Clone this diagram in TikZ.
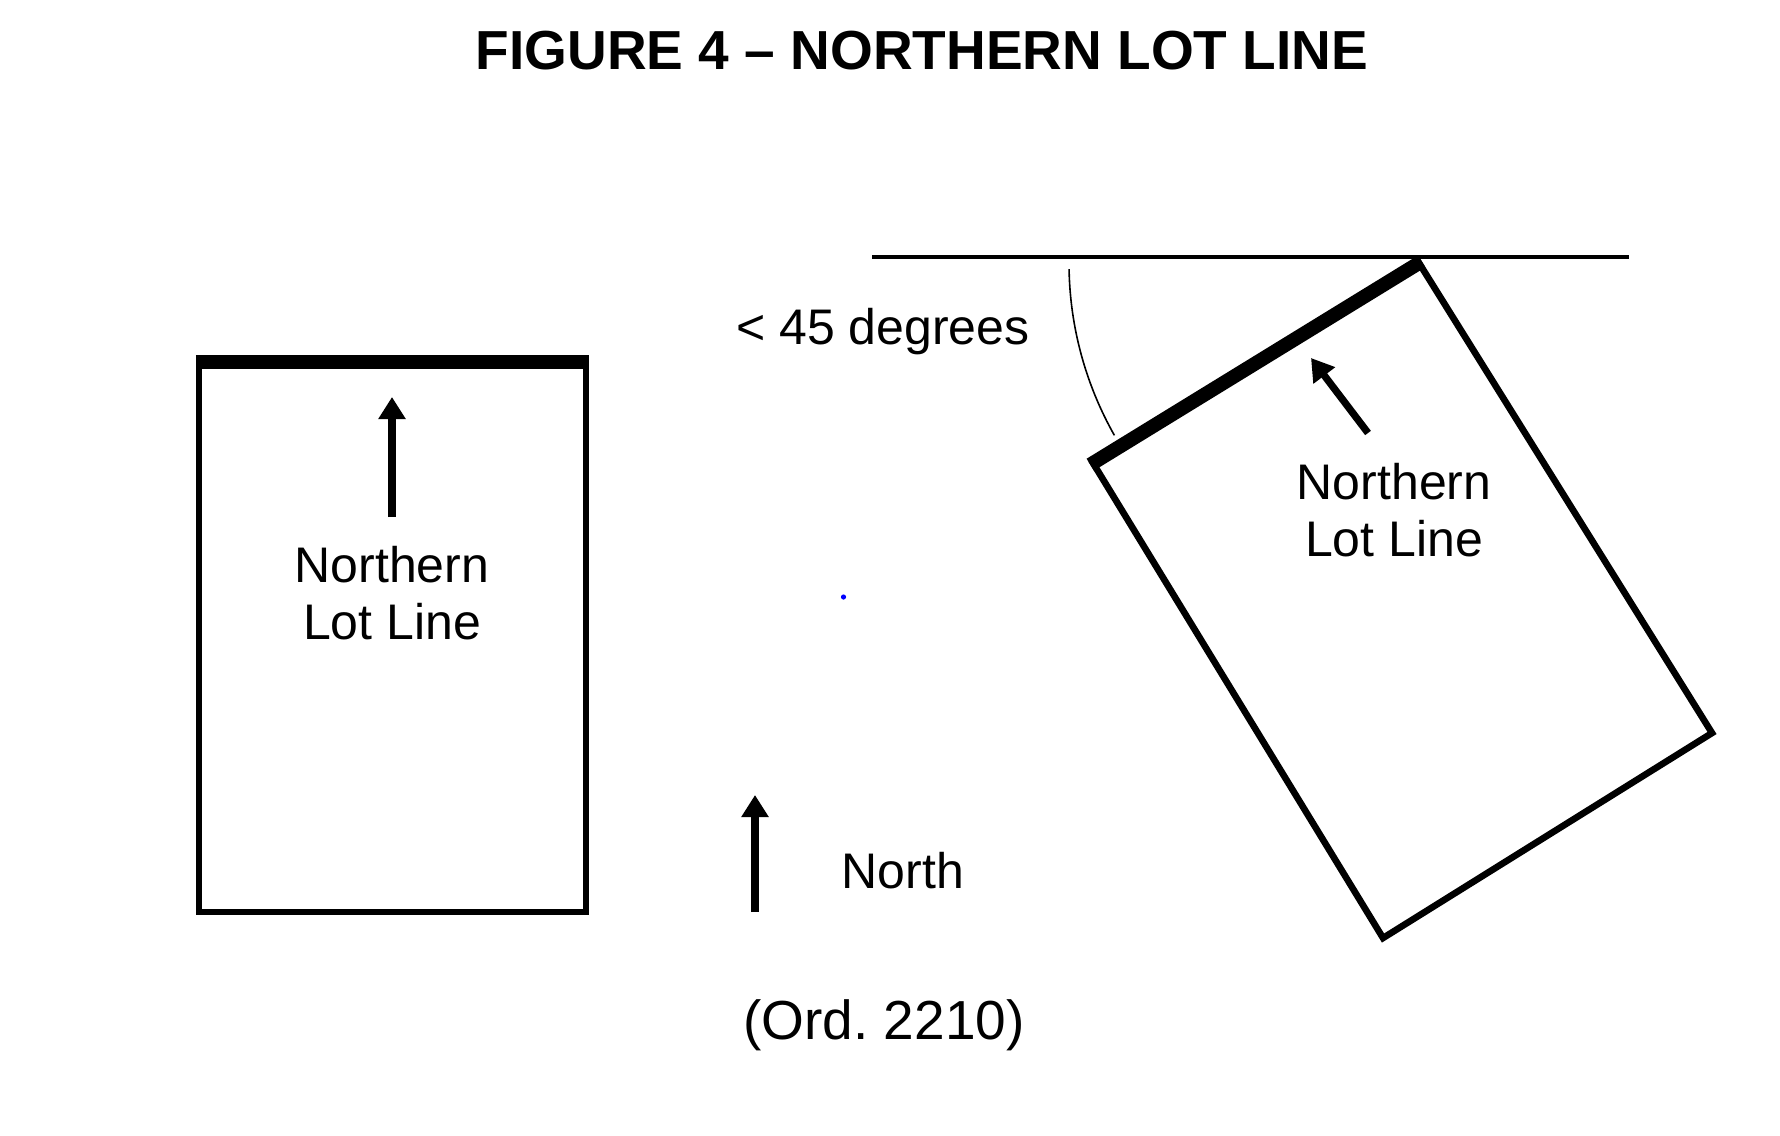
\documentclass[tikz,border=0pt]{standalone}
\usepackage{fontspec}
\setmainfont{Liberation Sans}
\usetikzlibrary{arrows.meta}
\begin{document}
\begin{tikzpicture}[x=0.5pt,y=-0.5pt,
  lbl/.style={font=\fontsize{25}{28.5}\selectfont, align=center, inner sep=0pt},
  titlestyle/.style={font=\fontsize{27.5}{30}\selectfont\bfseries, inner sep=0pt},
  lotedge/.style={line width=3.3pt, line join=miter},
  lotline/.style={line width=7pt, shorten >=-1.6pt, shorten <=-1.6pt},
  streetline/.style={line width=2.3pt},
  anglearc/.style={line width=0.8pt},
  northarrow/.style={line width=3.6pt, -{Triangle[length=11pt,width=13pt]}}]
\useasboundingbox (0,0) rectangle (1780,1135);
\fill[white] (0,0) rectangle (1780,1135);

% title
\node[titlestyle] (title) at (922,51) {FIGURE 4 – NORTHERN LOT LINE};

% left lot
\coordinate (L1) at (199,362);
\coordinate (L2) at (586,362);
\coordinate (L3) at (586,912);
\coordinate (L4) at (199,912);
\draw[lotedge] (L1) -- (L2) -- (L3) -- (L4) -- cycle;
\draw[lotline] (L1) -- (L2);
\coordinate (la0) at (392,517);
\coordinate (la1) at (392,397);
\draw[northarrow] (la0) -- (la1);
\node[lbl] (ltext) at (392,593) {Northern\\Lot Line};

% north arrow
\coordinate (na0) at (755,912);
\coordinate (na1) at (755,795);
\draw[northarrow] (na0) -- (na1);
\node[lbl] (north) at (903,871) {North};
\node[lbl, font=\fontsize{27.5}{30}\selectfont] (ord) at (884,1025) {(Ord.\ 2210)};
\fill[blue] (843.5,597) circle (1.3pt);

% right lot
\coordinate (S1) at (872,257);
\coordinate (S2) at (1629,257);
\draw[streetline] (S1) -- (S2);
\coordinate (T) at (1419,263);
\coordinate (R) at (1712,733);
\coordinate (B) at (1383,938);
\coordinate (Lc) at (1093,463);
\draw[lotedge] (T) -- (R) -- (B) -- (Lc) -- cycle;
\draw[lotline] (Lc) -- (T);
\draw[anglearc] (T) ++(179:350) arc[start angle=179, end angle=150.5, radius=350];
\node[lbl] (deg) at (883,332) {< 45 degrees};
\coordinate (ra0) at (1368,433);
\coordinate (ra1) at (1311,358);
\draw[northarrow] (ra0) -- (ra1);
\node[lbl] (rtext) at (1394,510) {Northern\\Lot Line};
\end{tikzpicture}
\end{document}
